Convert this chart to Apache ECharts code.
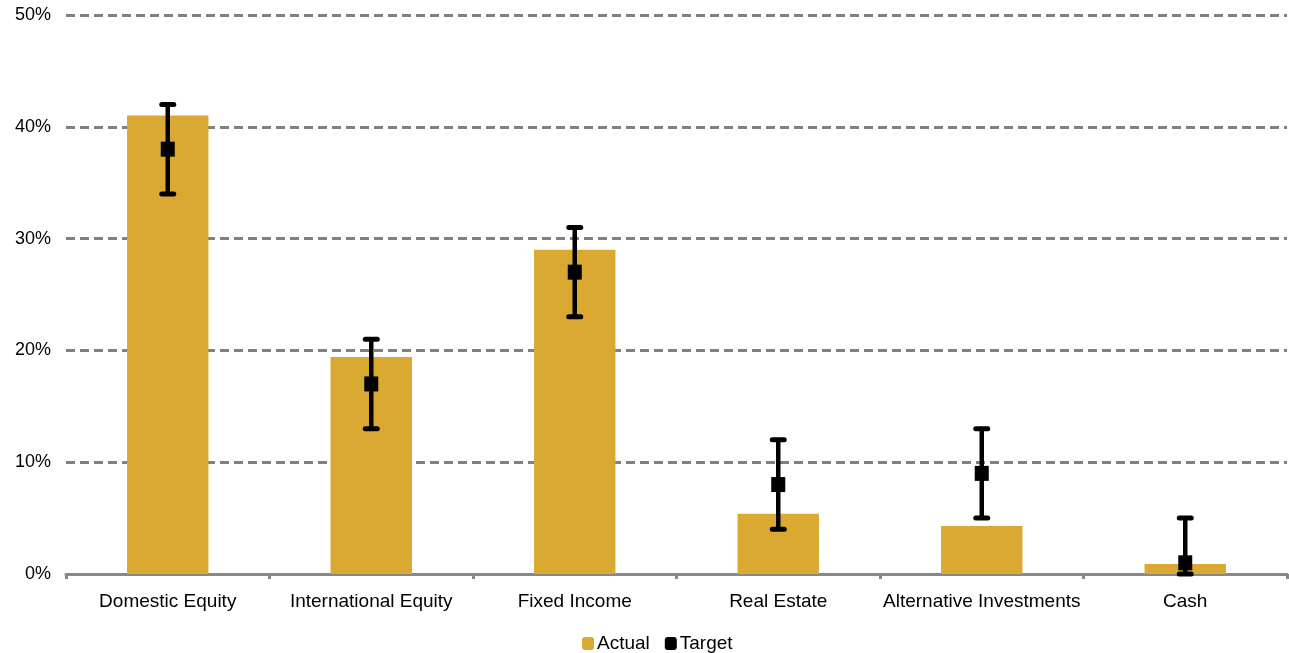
<!DOCTYPE html>
<html>
<head>
<meta charset="utf-8">
<script src="https://cdn.jsdelivr.net/npm/echarts@6/dist/echarts.min.js"></script>
<style>
  html, body { margin: 0; padding: 0; background: #fff; }
  #chart { width: 1289px; height: 653px; }
</style>
</head>
<body>
<div id="chart"></div>
<script>
// Asset allocation: actual weights vs. policy targets with allowed ranges (%)
const categories = ['Domestic Equity', 'International Equity', 'Fixed Income', 'Real Estate', 'Alternative Investments', 'Cash'];
const actual = [41.0, 19.4, 29.0, 5.4, 4.3, 0.9];
const target = [38, 17, 27, 8, 9, 1];
const rangeLow = [34, 13, 23, 4, 5, 0];
const rangeHigh = [42, 21, 31, 12, 13, 5];
const yTicks = [0, 10, 20, 30, 40, 50];

const FONT = '"Liberation Sans", Arial, sans-serif';
const GOLD = '#D9A932';

const rangeData = categories.map((c, i) => [i, rangeLow[i], rangeHigh[i]]);

const chart = echarts.init(document.getElementById('chart'));
chart.setOption({
  animation: false,
  grid: { left: 66, right: 2, top: 15, bottom: 79, containLabel: false },
  legend: {
    left: 577,
    top: 629,
    itemWidth: 12,
    itemHeight: 13,
    itemGap: 15,
    textStyle: { fontFamily: FONT, fontSize: 19, color: '#000', padding: [0, 0, 0, -2] },
    data: [
      { name: 'Actual', icon: 'roundRect', itemStyle: { color: GOLD, opacity: 1 } },
      { name: 'Target', icon: 'roundRect', itemStyle: { color: '#000', opacity: 1 } }
    ]
  },
  xAxis: {
    type: 'category',
    data: categories,
    axisLine: { lineStyle: { color: '#888', width: 3 } },
    axisTick: { show: true, length: 5, lineStyle: { color: '#888', width: 3 } },
    axisLabel: { fontFamily: FONT, fontSize: 19, color: '#000', margin: 18, interval: 0 }
  },
  yAxis: {
    type: 'value',
    min: yTicks[0],
    max: yTicks[yTicks.length - 1],
    interval: 10,
    axisLine: { show: false },
    axisTick: { show: false },
    axisLabel: { fontFamily: FONT, fontSize: 18, color: '#000', margin: 15, formatter: v => v + '%' },
    splitLine: { lineStyle: { color: '#808080', width: 3, type: [9, 5] } }
  },
  series: [
    {
      name: 'Actual',
      type: 'bar',
      data: actual,
      barWidth: '40%',
      itemStyle: { color: GOLD },
      z: 2
    },
    {
      name: 'Range',
      type: 'custom',
      data: rangeData,
      z: 3,
      renderItem: function (params, api) {
        const x = api.value(0);
        const lo = api.coord([x, api.value(1)]);
        const hi = api.coord([x, api.value(2)]);
        const half = 6;
        const style = { stroke: '#000', lineWidth: 5, lineCap: 'round' };
        return {
          type: 'group',
          children: [
            { type: 'line', shape: { x1: lo[0], y1: lo[1], x2: hi[0], y2: hi[1] }, style: { stroke: '#000', lineWidth: 4.5 } },
            { type: 'line', shape: { x1: hi[0] - half, y1: hi[1], x2: hi[0] + half, y2: hi[1] }, style: style },
            { type: 'line', shape: { x1: lo[0] - half, y1: lo[1], x2: lo[0] + half, y2: lo[1] }, style: style }
          ]
        };
      }
    },
    {
      name: 'Target',
      type: 'scatter',
      data: target,
      symbol: 'rect',
      symbolSize: [14, 15],
      itemStyle: { color: '#000', opacity: 1 },
      z: 4
    }
  ]
});
</script>
</body>
</html>
